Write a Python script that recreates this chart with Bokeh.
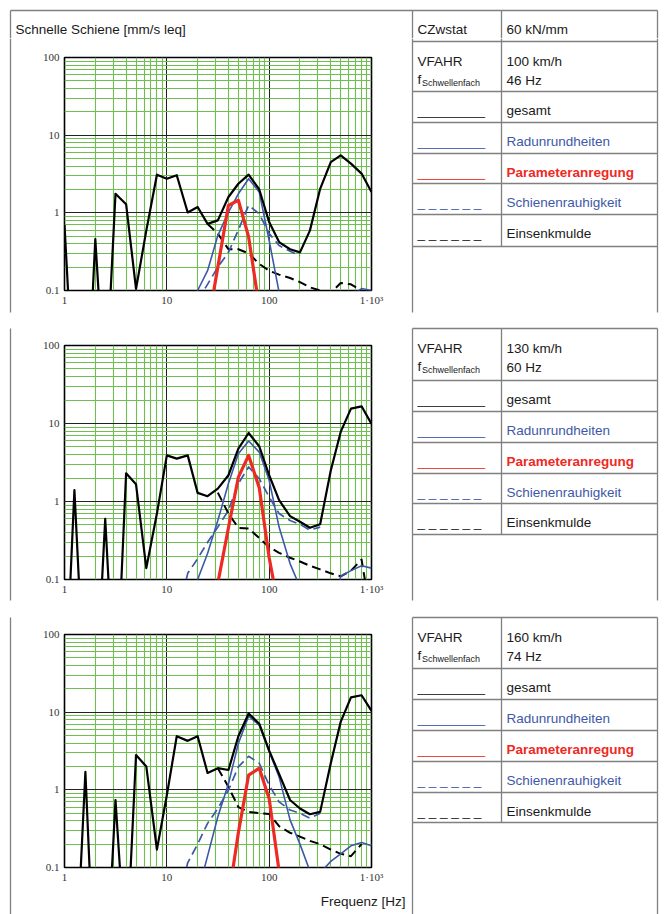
import numpy as np
from bokeh.plotting import figure
from bokeh.layouts import row, column
from bokeh.models import Range1d, LogTicker, CustomJSTickFormatter, Title
from bokeh.core.properties import value
from bokeh.embed import file_html
from bokeh.resources import INLINE

# ---------------- data ----------------
FREQ = [1, 1.25, 1.6, 2, 2.5, 3.15, 4, 5, 6.3, 8, 10, 12.5, 16, 20, 25, 31.5,
        40, 50, 63, 80, 100, 125, 160, 200, 250, 315, 400, 500, 630, 800, 1000]
N = None

# 100 km/h
GESAMT_100 = [0.7, 0.003, 0.001, 0.46, 0.004, 1.76, 1.29, 0.105, 0.59, 3.1, 2.75, 3.05, 1.01, 1.19, 0.72, 0.8,
              1.6, 2.37, 3.1, 2.0, 0.76, 0.42, 0.34, 0.31, 0.59, 2.04, 4.5, 5.5, 4.3, 3.2, 1.85]
RAD_100 = [N, N, N, N, N, N, N, N, N, N, N, N, 0.005, 0.1, 0.18, 0.51,
           1.02, 1.76, 2.75, 1.85, 0.44, 0.095, 0.005, N, N, N, N, N, 0.085, 0.106, 0.1]
PARAM_100 = [N, N, N, N, N, N, N, N, N, N, N, N, N, N, 0.034, 0.2,
             1.25, 1.45, 0.49, 0.06, 0.002, N, N, N, N, N, N, N, N, N, N]
SCHIENE_100 = [N, N, N, N, N, N, N, N, N, N, N, N, N, 0.075, 0.12, 0.2,
               0.31, 0.6, 1.25, 0.97, 0.54, 0.38, 0.32, 0.28, N, N, N, N, N, N, N]
SENK_100 = [N, N, N, N, N, N, N, N, N, N, N, N, N, N, 0.72, 0.54,
            0.34, 0.34, 0.3, 0.22, 0.18, 0.16, 0.145, 0.128, 0.11, 0.1, 0.093, 0.125, 0.12, 0.1, 0.09]

# 130 km/h
GESAMT_130 = [0.002, 1.4, 0.002, 0.002, 0.6, 0.002, 2.3, 1.66, 0.14, 0.7, 3.9, 3.55, 3.9, 1.29, 1.17, 1.46,
              2.17, 4.75, 7.55, 5.1, 2.17, 1.04, 0.65, 0.55, 0.46, 0.51, 2.5, 7.8, 15.5, 16.6, 9.9]
RAD_130 = [N, N, N, N, N, N, N, N, N, N, N, N, 0.005, 0.1, 0.215, 0.57,
           1.7, 4.1, 5.97, 4.3, 1.87, 0.47, 0.16, 0.08, 0.01, 0.005, 0.03, 0.11, 0.13, 0.15, 0.14]
PARAM_130 = [N, N, N, N, N, N, N, N, N, N, N, N, N, N, 0.002, 0.09,
             0.46, 2.05, 3.9, 1.5, 0.19, 0.04, N, N, N, N, N, N, N, N, N]
SCHIENE_130 = [N, N, N, N, N, N, N, N, N, N, N, 0.03, 0.12, 0.185, 0.3, 0.47,
               0.77, 1.7, 2.77, 1.96, 1.14, 0.7, 0.57, 0.51, 0.43, 0.47, N, N, N, N, N]
SENK_130 = [N, N, N, N, N, N, N, N, N, N, N, N, N, N, N, 1.3,
            0.7, 0.46, 0.45, 0.34, 0.26, 0.22, 0.19, 0.17, 0.15, 0.135, 0.12, 0.11, 0.13, 0.18, 0.03]

# 160 km/h
GESAMT_160 = [0.002, 0.002, 1.7, 0.002, 0.002, 0.74, 0.006, 2.8, 2.0, 0.17, 0.85, 4.9, 4.27, 4.9, 1.65, 1.9,
              1.8, 4.9, 9.6, 7.1, 3.2, 1.6, 0.74, 0.575, 0.485, 0.52, 2.2, 7.5, 15.5, 16.5, 10.4]
RAD_160 = [N, N, N, N, N, N, N, N, N, N, N, N, N, 0.046, 0.14, 0.45,
           1.2, 3.95, 8.9, 6.8, 3.1, 1.47, 0.41, 0.2, 0.09, 0.085, 0.12, 0.15, 0.19, 0.21, 0.19]
PARAM_160 = [N, N, N, N, N, N, N, N, N, N, N, N, N, N, N, 0.002,
             0.04, 0.28, 1.55, 1.9, 0.77, 0.09, 0.003, N, N, N, N, N, N, N, N]
SCHIENE_160 = [N, N, N, N, N, N, N, N, N, N, N, 0.03, 0.115, 0.2, 0.37, 0.575,
               0.99, 1.98, 2.7, 2.2, 1.15, 0.7, 0.55, 0.5, 0.43, 0.5, N, N, N, N, N]
SENK_160 = [N, N, N, N, N, N, N, N, N, N, N, N, N, N, N, 1.9,
            1.09, 0.6, 0.52, 0.5, 0.49, 0.34, 0.28, 0.25, 0.22, 0.2, 0.17, 0.15, 0.14, 0.2, N]

SPEEDS = ["100 km/h", "130 km/h", "160 km/h"]
SLEEPER_FREQ = ["46 Hz", "60 Hz", "74 Hz"]
STIFFNESS_LABEL = "CZwstat"
STIFFNESS = "60 kN/mm"
LEGEND_NAMES = ["gesamt", "Radunrundheiten", "Parameteranregung", "Schienenrauhigkeit", "Einsenkmulde"]
TITLE = "Schnelle Schiene [mm/s leq]"
XLABEL = "Frequenz [Hz]"

# ---------------- style ----------------
BLACK = "#000000"
BLUE = "#3d58a8"
RED = "#ee2a24"
GREEN = "#6dbf4f"
BORDER = "#808080"
TXT = "#1a1a1a"
SANS = value("Liberation Sans")
FS = "13.5px"
BW = 1.3

# page geometry (pixels)
PAGE_W, PAGE_H = 664, 914
TOP_H = 38
STRIP_W = 14
LEFT_W = 396
XL, XC, XR = 412, 501, 657
PANEL_ROWS = [
    [10, 41, 91, 122, 153, 183, 214, 246],
    [328, 380, 411, 442, 473, 503, 534],
    [617, 668, 699, 730, 761, 792, 822],
]
PANEL_BOTTOM = [312, 600, PAGE_H]


def arr(v):
    return np.array([np.nan if x is None else x for x in v], dtype=float)


def blank_fig(w, h, x0, x1, y0, y1):
    p = figure(width=w, height=h, x_range=Range1d(x0, x1), y_range=Range1d(y1, y0),
               x_axis_location=None, y_axis_location=None, toolbar_location=None,
               output_backend="svg", min_border=0)
    p.min_border_left = p.min_border_right = p.min_border_top = p.min_border_bottom = 0
    p.grid.visible = False
    p.outline_line_color = None
    p.background_fill_color = "white"
    p.border_fill_color = "white"
    return p


def make_chart(series, h, top, bottom):
    p = figure(width=LEFT_W, height=h, x_axis_type="log", y_axis_type="log",
               x_range=Range1d(1, 1000), y_range=Range1d(0.1, 100),
               output_backend="svg", toolbar_location=None,
               min_border_left=50, min_border_right=39,
               min_border_top=top, min_border_bottom=bottom)
    p.background_fill_color = "white"
    p.border_fill_color = "white"
    p.outline_line_color = "black"
    p.outline_line_width = 1.6
    fmt = CustomJSTickFormatter(code="""
        if (tick >= 999) { return '1\u00b710\u00b3'; }
        if (tick < 0.5) { return '0.1'; }
        return String(Math.round(tick));
    """)
    for ax, grid, standoff in ((p.xaxis[0], p.xgrid[0], 3), (p.yaxis[0], p.ygrid[0], 5)):
        t = LogTicker(num_minor_ticks=10)
        ax.ticker = t
        grid.ticker = t
        ax.formatter = fmt
        ax.axis_line_color = None
        ax.major_tick_line_color = None
        ax.minor_tick_line_color = None
        ax.major_tick_out = 0
        ax.major_tick_in = 0
        ax.minor_tick_out = 0
        ax.minor_tick_in = 0
        ax.major_label_standoff = standoff
        ax.major_label_text_font = "Liberation Serif"
        ax.major_label_text_font_size = "11px"
        ax.major_label_text_font_style = "normal"
        ax.major_label_text_color = "#333333"
        grid.grid_line_color = "#222222"
        grid.grid_line_width = 1
        grid.minor_grid_line_color = GREEN
        grid.minor_grid_line_width = 1.1
    f = np.array(FREQ, dtype=float)
    gesamt, rad, param, schiene, senk = series
    p.line(f, arr(senk), line_color=BLACK, line_width=2, line_dash="9 5", line_join="round")
    p.line(f, arr(schiene), line_color=BLUE, line_width=1.7, line_dash="9 5", line_join="round")
    p.line(f, arr(rad), line_color=BLUE, line_width=1.6, line_join="round")
    p.line(f, arr(gesamt), line_color=BLACK, line_width=2.2, line_join="round")
    p.line(f, arr(param), line_color=RED, line_width=3.2, line_join="round")
    return p


# ---------------- top band (title + first table row) ----------------
topband = blank_fig(PAGE_W, TOP_H, 0, PAGE_W, 0, TOP_H)
topband.segment(x0=[10, 10, XL, XC, XR], y0=[10, 10, 10, 10, 10],
                x1=[XR, 10, XL, XC, XR], y1=[10, TOP_H, TOP_H, TOP_H, TOP_H],
                line_color=BORDER, line_width=BW)
topband.text(x=[15], y=[28.5], text=[TITLE], text_font=SANS, text_font_size=FS,
             text_color=TXT, text_baseline="alphabetic", text_align="left")
topband.text(x=[XL + 5, XC + 5], y=[29, 29], text=[STIFFNESS_LABEL, STIFFNESS], text_font=SANS,
             text_font_size=FS, text_color=TXT, text_baseline="alphabetic", text_align="left")

# ---------------- left strip (cell borders) ----------------
strip = blank_fig(STRIP_W, PAGE_H - TOP_H, 0, STRIP_W, TOP_H, PAGE_H)
strip.segment(x0=[10, 10, 10], y0=[TOP_H, 328, 617], x1=[10, 10, 10], y1=[312, 600, PAGE_H],
              line_color=BORDER, line_width=BW)

# ---------------- charts ----------------
c1 = make_chart((GESAMT_100, RAD_100, PARAM_100, SCHIENE_100, SENK_100), 282, 19, 30)
c2 = make_chart((GESAMT_130, RAD_130, PARAM_130, SCHIENE_130, SENK_130), 289, 25, 30)
c3 = make_chart((GESAMT_160, RAD_160, PARAM_160, SCHIENE_160, SENK_160), 305, 25, 47)
c3.add_layout(Title(text=XLABEL, align="right", offset=-34, standoff=12, vertical_align="bottom",
                    text_font="Liberation Sans", text_font_size=FS, text_font_style="normal",
                    text_color=TXT), "below")

# ---------------- tables ----------------
x_tab0 = STRIP_W + LEFT_W
table = blank_fig(PAGE_W - x_tab0, PAGE_H - TOP_H, x_tab0, PAGE_W, TOP_H, PAGE_H)

hx0, hy0, hx1, hy1 = [], [], [], []
for rows, bottom in zip(PANEL_ROWS, PANEL_BOTTOM):
    for yy in rows:
        if yy > TOP_H:
            hx0.append(XL); hx1.append(XR); hy0.append(yy); hy1.append(yy)
    y_start = max(rows[0], TOP_H)
    for xx, yb in ((XL, bottom), (XR, bottom), (XC, rows[-1])):
        hx0.append(xx); hx1.append(xx); hy0.append(y_start); hy1.append(yb)
table.segment(x0=hx0, y0=hy0, x1=hx1, y1=hy1, line_color=BORDER, line_width=BW)

LEG_COLORS = [TXT, BLUE, RED, BLUE, TXT]
LEG_MARKS = ["_________", "_________", "_________", "_ _ _ _ _ _", "_ _ _ _ _ _"]
LEG_STYLE = ["normal", "normal", "bold", "normal", "normal"]

tx, ty, tt, tc, tst = [], [], [], [], []
for k, rows in enumerate(PANEL_ROWS):
    r = 1 if k == 0 else 0
    top = rows[r]
    tx += [XL + 5, XC + 5, XC + 5]
    ty += [top + 19.5, top + 19.5, top + 38.5]
    tt += ["VFAHR", SPEEDS[k], SLEEPER_FREQ[k]]
    tc += [TXT, TXT, TXT]
    tst += ["normal"] * 3
    table.text(x=[XL + 5], y=[top + 37.5], text=["f"], text_font=SANS, text_font_size=FS,
               text_color=TXT, text_baseline="alphabetic", text_align="left")
    table.text(x=[XL + 9.5], y=[top + 41], text=["Schwellenfach"], text_font=SANS, text_font_size="9px",
               text_color=TXT, text_baseline="alphabetic", text_align="left")
    for j, name in enumerate(LEGEND_NAMES):
        yy = rows[r + 1 + j] + 19
        tx += [XL + 5, XC + 5]
        ty += [yy, yy]
        tt += [LEG_MARKS[j], name]
        tc += [LEG_COLORS[j], LEG_COLORS[j]]
        tst += ["normal", LEG_STYLE[j]]

for style in ("normal", "bold"):
    idx = [i for i, s in enumerate(tst) if s == style]
    table.text(x=[tx[i] for i in idx], y=[ty[i] for i in idx], text=[tt[i] for i in idx],
               text_color=[tc[i] for i in idx], text_font=SANS, text_font_size=FS,
               text_font_style=style, text_baseline="alphabetic", text_align="left")

left = column(c1, c2, c3, spacing=0)
body = row(strip, left, table, spacing=0)
page = column(topband, body, spacing=0)

open("out.html", "w").write(file_html(page, INLINE))
